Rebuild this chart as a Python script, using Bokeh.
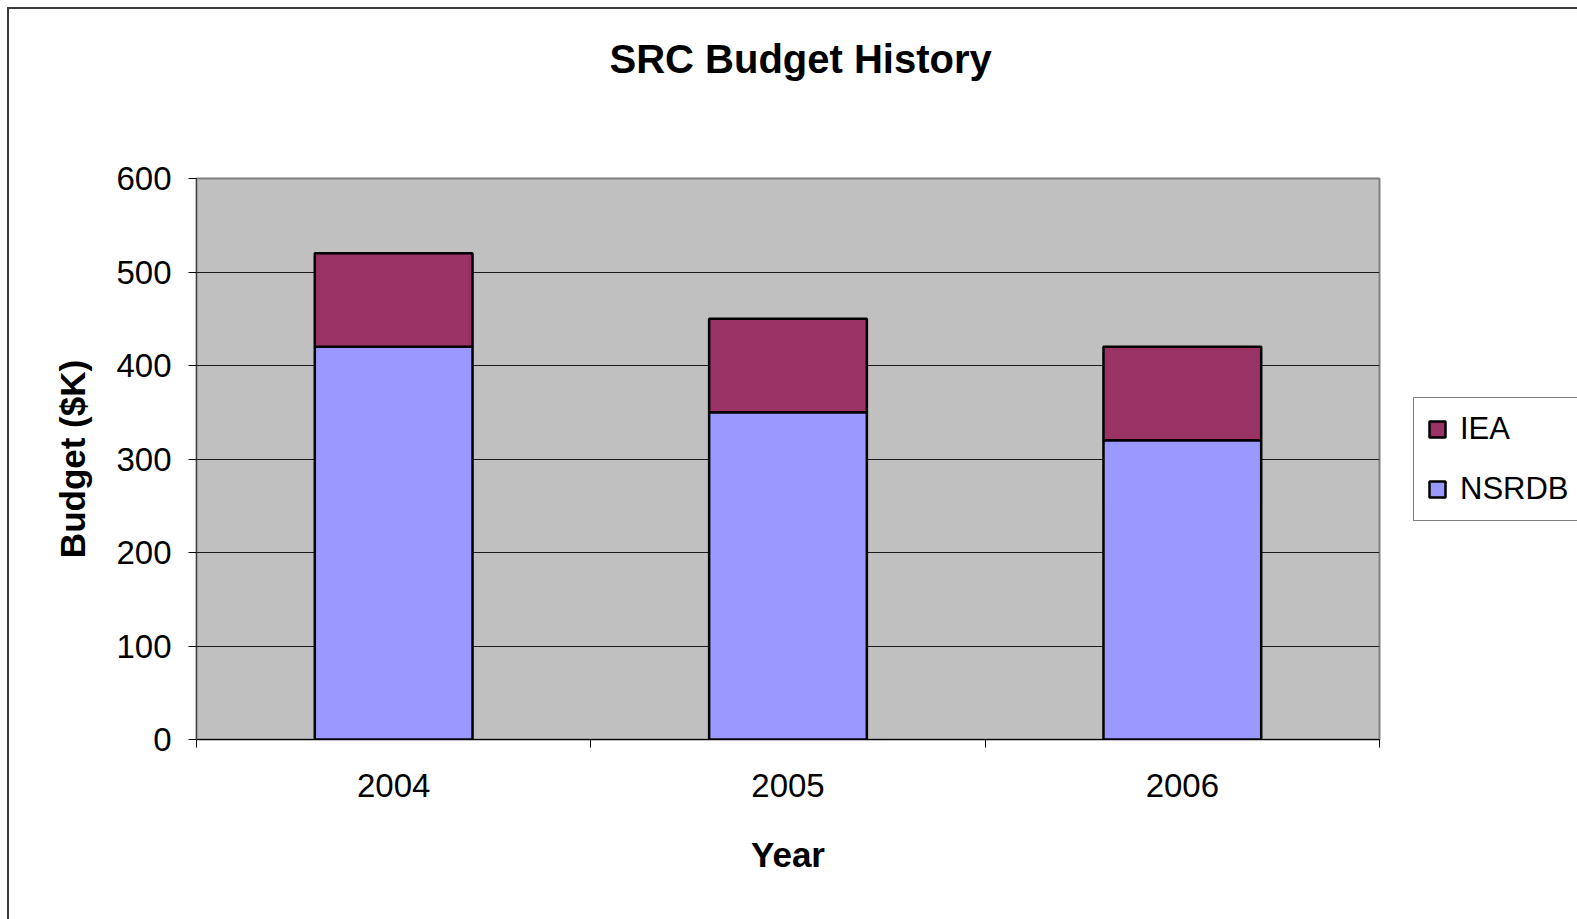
from bokeh.plotting import figure
from bokeh.models import Range1d, FixedTicker, Legend, LegendItem, ColumnDataSource, Title
from bokeh.embed import file_html
from bokeh.resources import INLINE

# ---- data ----
years = ["2004", "2005", "2006"]
nsrdb = [420, 350, 320]
iea = [100, 100, 100]
series = ["NSRDB", "IEA"]
colors = ["#9999FF", "#993366"]
y_ticks = [0, 100, 200, 300, 400, 500, 600]

pos = [i + 0.5 for i in range(len(years))]
edges = [i for i in range(len(years) + 1)]
source = ColumnDataSource(dict(x=pos, NSRDB=nsrdb, IEA=iea))

FONT = "Liberation Sans"

p = figure(frame_width=1183, frame_height=561, output_backend="svg", toolbar_location=None,
           x_range=Range1d(0, len(years)), y_range=Range1d(0, 600),
           min_border_left=187, min_border_top=169, min_border_right=198,
           min_border_bottom=180,
           background_fill_color="#C0C0C0", border_fill_color="white")

p.styles = {"margin-left": "7px", "margin-top": "7px",
            "border-left": "2px solid #3c3c3c", "border-top": "2px solid #3c3c3c"}

# spacer between title and frame
p.add_layout(Title(text=" ", text_font_size="1px", standoff=95), "above")

p.title.text = "SRC Budget History"
p.title.text_font = FONT
p.title.text_font_size = "40px"
p.title.text_font_style = "bold"
p.title.text_color = "black"
p.title.align = "left"
p.title.offset = 413
p.title.standoff = 0

p.outline_line_color = "#808080"
p.outline_line_width = 2

rs = p.vbar_stack(series, x="x", width=0.4, fill_color=colors, line_color="black",
                  line_width=2.5, source=source)

# x axis
xa = p.xaxis[0]
xa.ticker = FixedTicker(ticks=pos, minor_ticks=edges)
xa.major_label_overrides = {x: y for x, y in zip(pos, years)}
xa.major_tick_out = 0
xa.major_tick_in = 0
xa.minor_tick_out = 8
xa.minor_tick_in = 0
xa.minor_tick_line_color = "black"
xa.axis_line_color = "black"
xa.axis_line_width = 1
xa.major_label_standoff = 26
xa.major_label_text_font = FONT
xa.major_label_text_font_size = "33px"
xa.major_label_text_color = "black"
xa.axis_label = "Year"
xa.axis_label_text_font = FONT
xa.axis_label_text_font_size = "35px"
xa.axis_label_text_font_style = "bold"
xa.axis_label_text_color = "black"
xa.axis_label_standoff = 35

# y axis
ya = p.yaxis[0]
ya.ticker = FixedTicker(ticks=y_ticks)
ya.major_tick_out = 8
ya.major_tick_in = 0
ya.minor_tick_out = 0
ya.minor_tick_in = 0
ya.major_tick_line_color = "black"
ya.axis_line_color = "#404040"
ya.major_label_standoff = 17
ya.major_label_text_font = FONT
ya.major_label_text_font_size = "33px"
ya.major_label_text_color = "black"
ya.axis_label = "Budget ($K)"
ya.axis_label_text_font = FONT
ya.axis_label_text_font_size = "35px"
ya.axis_label_text_font_style = "bold"
ya.axis_label_text_color = "black"
ya.axis_label_standoff = 21

p.xgrid.grid_line_color = None
p.ygrid.ticker = FixedTicker(ticks=y_ticks)
p.ygrid.grid_line_color = "#1a1a1a"
p.ygrid.grid_line_width = 1

legend = Legend(items=[LegendItem(label=series[1], renderers=[rs[1]]),
                       LegendItem(label=series[0], renderers=[rs[0]])],
                location="center_left")
legend.border_line_color = "black"
legend.border_line_width = 1
legend.background_fill_color = "white"
legend.background_fill_alpha = 1
legend.label_text_font = FONT
legend.label_text_font_size = "31px"
legend.label_text_color = "black"
legend.glyph_width = 20
legend.glyph_height = 20
legend.label_height = 35
legend.spacing = 24
legend.padding = 13
legend.label_standoff = 13
legend.margin = 34
p.add_layout(legend, "right")

open("out.html", "w").write(file_html(p, INLINE))
